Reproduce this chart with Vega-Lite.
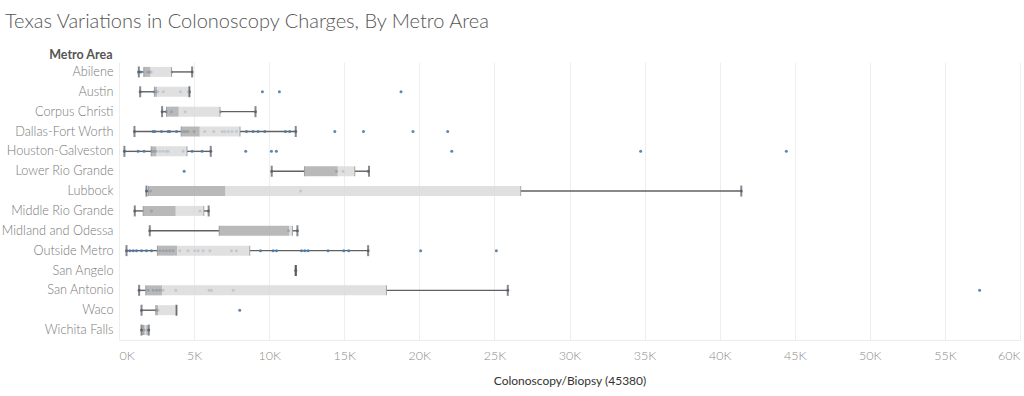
{
  "$schema": "https://vega.github.io/schema/vega-lite/v6.json",
  "autosize": {"type": "none"},
  "width": 901,
  "height": 278,
  "padding": {"left": 119, "top": 62, "right": 4, "bottom": 56},
  "background": "white",
  "title": {
    "text": "Texas Variations in Colonoscopy Charges, By Metro Area",
    "anchor": "start",
    "frame": "group",
    "dx": -114,
    "offset": 16,
    "font": "Lato",
    "fontSize": 20,
    "fontWeight": 300,
    "color": "#555555"
  },
  "config": {
    "view": {"stroke": null},
    "font": "Lato"
  },
  "datasets": {
    "boxes": [
      {"metro": "Abilene", "lo": 1320, "q1": 1650, "med": 2100, "q3": 3500, "hi": 4870},
      {"metro": "Austin", "lo": 1410, "q1": 2360, "med": 2540, "q3": 4690, "hi": 4690},
      {"metro": "Corpus Christi", "lo": 2870, "q1": 3160, "med": 3980, "q3": 6730, "hi": 9090},
      {"metro": "Dallas-Fort Worth", "lo": 1030, "q1": 4140, "med": 5380, "q3": 8060, "hi": 11770},
      {"metro": "Houston-Galveston", "lo": 360, "q1": 2140, "med": 2500, "q3": 4530, "hi": 6110},
      {"metro": "Lower Rio Grande", "lo": 10170, "q1": 12350, "med": 14570, "q3": 15700, "hi": 16650},
      {"metro": "Lubbock", "lo": 1830, "q1": 1960, "med": 7090, "q3": 26750, "hi": 41440},
      {"metro": "Middle Rio Grande", "lo": 1050, "q1": 1610, "med": 3780, "q3": 5650, "hi": 5970},
      {"metro": "Midland and Odessa", "lo": 2050, "q1": 6670, "med": 11330, "q3": 11550, "hi": 11880},
      {"metro": "Outside Metro", "lo": 500, "q1": 2560, "med": 3870, "q3": 8710, "hi": 16590},
      {"metro": "San Angelo", "lo": 11770, "q1": 11770, "med": 11770, "q3": 11770, "hi": 11770},
      {"metro": "San Antonio", "lo": 1340, "q1": 1780, "med": 2870, "q3": 17810, "hi": 25890},
      {"metro": "Waco", "lo": 1500, "q1": 2450, "med": 2600, "q3": 3830, "hi": 3830},
      {"metro": "Wichita Falls", "lo": 1500, "q1": 1600, "med": 1720, "q3": 1870, "hi": 1980}
    ],
    "points": [
      {"metro": "Abilene", "v": 1300}, {"metro": "Abilene", "v": 1450}, {"metro": "Abilene", "v": 1900}, {"metro": "Abilene", "v": 2050}, {"metro": "Abilene", "v": 2150}, {"metro": "Abilene", "v": 3500}, {"metro": "Abilene", "v": 4870},
      {"metro": "Austin", "v": 1410}, {"metro": "Austin", "v": 2360}, {"metro": "Austin", "v": 2450}, {"metro": "Austin", "v": 2600}, {"metro": "Austin", "v": 2950}, {"metro": "Austin", "v": 4100}, {"metro": "Austin", "v": 4600}, {"metro": "Austin", "v": 4690}, {"metro": "Austin", "v": 9550}, {"metro": "Austin", "v": 10680}, {"metro": "Austin", "v": 18780},
      {"metro": "Corpus Christi", "v": 2870}, {"metro": "Corpus Christi", "v": 3160}, {"metro": "Corpus Christi", "v": 3490}, {"metro": "Corpus Christi", "v": 4400}, {"metro": "Corpus Christi", "v": 6730}, {"metro": "Corpus Christi", "v": 9090},
      {"metro": "Dallas-Fort Worth", "v": 1030}, {"metro": "Dallas-Fort Worth", "v": 2270}, {"metro": "Dallas-Fort Worth", "v": 2380}, {"metro": "Dallas-Fort Worth", "v": 2830}, {"metro": "Dallas-Fort Worth", "v": 3270}, {"metro": "Dallas-Fort Worth", "v": 3380}, {"metro": "Dallas-Fort Worth", "v": 3830}, {"metro": "Dallas-Fort Worth", "v": 4270}, {"metro": "Dallas-Fort Worth", "v": 4380}, {"metro": "Dallas-Fort Worth", "v": 4490}, {"metro": "Dallas-Fort Worth", "v": 4600}, {"metro": "Dallas-Fort Worth", "v": 5000}, {"metro": "Dallas-Fort Worth", "v": 5710}, {"metro": "Dallas-Fort Worth", "v": 6310}, {"metro": "Dallas-Fort Worth", "v": 6870}, {"metro": "Dallas-Fort Worth", "v": 7040}, {"metro": "Dallas-Fort Worth", "v": 7270}, {"metro": "Dallas-Fort Worth", "v": 7530}, {"metro": "Dallas-Fort Worth", "v": 7820}, {"metro": "Dallas-Fort Worth", "v": 8490}, {"metro": "Dallas-Fort Worth", "v": 8930}, {"metro": "Dallas-Fort Worth", "v": 9260}, {"metro": "Dallas-Fort Worth", "v": 9710}, {"metro": "Dallas-Fort Worth", "v": 11080}, {"metro": "Dallas-Fort Worth", "v": 11370}, {"metro": "Dallas-Fort Worth", "v": 11770}, {"metro": "Dallas-Fort Worth", "v": 14370}, {"metro": "Dallas-Fort Worth", "v": 16280}, {"metro": "Dallas-Fort Worth", "v": 19580}, {"metro": "Dallas-Fort Worth", "v": 21890},
      {"metro": "Houston-Galveston", "v": 360}, {"metro": "Houston-Galveston", "v": 1270}, {"metro": "Houston-Galveston", "v": 1670}, {"metro": "Houston-Galveston", "v": 2200}, {"metro": "Houston-Galveston", "v": 2340}, {"metro": "Houston-Galveston", "v": 2500}, {"metro": "Houston-Galveston", "v": 2720}, {"metro": "Houston-Galveston", "v": 2940}, {"metro": "Houston-Galveston", "v": 3160}, {"metro": "Houston-Galveston", "v": 3270}, {"metro": "Houston-Galveston", "v": 4270}, {"metro": "Houston-Galveston", "v": 4870}, {"metro": "Houston-Galveston", "v": 5530}, {"metro": "Houston-Galveston", "v": 6110}, {"metro": "Houston-Galveston", "v": 8440}, {"metro": "Houston-Galveston", "v": 10150}, {"metro": "Houston-Galveston", "v": 10480}, {"metro": "Houston-Galveston", "v": 22160}, {"metro": "Houston-Galveston", "v": 34740}, {"metro": "Houston-Galveston", "v": 44440},
      {"metro": "Lower Rio Grande", "v": 4340}, {"metro": "Lower Rio Grande", "v": 10170}, {"metro": "Lower Rio Grande", "v": 14480}, {"metro": "Lower Rio Grande", "v": 14920}, {"metro": "Lower Rio Grande", "v": 16590},
      {"metro": "Lubbock", "v": 1830}, {"metro": "Lubbock", "v": 2100}, {"metro": "Lubbock", "v": 12100}, {"metro": "Lubbock", "v": 41440},
      {"metro": "Middle Rio Grande", "v": 1050}, {"metro": "Middle Rio Grande", "v": 2160}, {"metro": "Middle Rio Grande", "v": 5400}, {"metro": "Middle Rio Grande", "v": 5950},
      {"metro": "Midland and Odessa", "v": 2050}, {"metro": "Midland and Odessa", "v": 11300}, {"metro": "Midland and Odessa", "v": 11880},
      {"metro": "Outside Metro", "v": 500}, {"metro": "Outside Metro", "v": 720}, {"metro": "Outside Metro", "v": 940}, {"metro": "Outside Metro", "v": 1170}, {"metro": "Outside Metro", "v": 1500}, {"metro": "Outside Metro", "v": 1830}, {"metro": "Outside Metro", "v": 2160}, {"metro": "Outside Metro", "v": 2720}, {"metro": "Outside Metro", "v": 2940}, {"metro": "Outside Metro", "v": 3160}, {"metro": "Outside Metro", "v": 3380}, {"metro": "Outside Metro", "v": 3600}, {"metro": "Outside Metro", "v": 4050}, {"metro": "Outside Metro", "v": 4600}, {"metro": "Outside Metro", "v": 5050}, {"metro": "Outside Metro", "v": 5270}, {"metro": "Outside Metro", "v": 5600}, {"metro": "Outside Metro", "v": 6050}, {"metro": "Outside Metro", "v": 7490}, {"metro": "Outside Metro", "v": 7820}, {"metro": "Outside Metro", "v": 9420}, {"metro": "Outside Metro", "v": 10260}, {"metro": "Outside Metro", "v": 10490}, {"metro": "Outside Metro", "v": 12150}, {"metro": "Outside Metro", "v": 12370}, {"metro": "Outside Metro", "v": 12590}, {"metro": "Outside Metro", "v": 13920}, {"metro": "Outside Metro", "v": 14970}, {"metro": "Outside Metro", "v": 15300}, {"metro": "Outside Metro", "v": 16590}, {"metro": "Outside Metro", "v": 20090}, {"metro": "Outside Metro", "v": 25130},
      {"metro": "San Angelo", "v": 11770},
      {"metro": "San Antonio", "v": 1340}, {"metro": "San Antonio", "v": 1940}, {"metro": "San Antonio", "v": 2270}, {"metro": "San Antonio", "v": 2500}, {"metro": "San Antonio", "v": 2720}, {"metro": "San Antonio", "v": 2940}, {"metro": "San Antonio", "v": 3780}, {"metro": "San Antonio", "v": 6000}, {"metro": "San Antonio", "v": 6160}, {"metro": "San Antonio", "v": 7600}, {"metro": "San Antonio", "v": 25890}, {"metro": "San Antonio", "v": 57310},
      {"metro": "Waco", "v": 1500}, {"metro": "Waco", "v": 2500}, {"metro": "Waco", "v": 2600}, {"metro": "Waco", "v": 8040},
      {"metro": "Wichita Falls", "v": 1500}, {"metro": "Wichita Falls", "v": 1750}, {"metro": "Wichita Falls", "v": 1980}
    ]
  },
  "encoding": {
    "y": {
      "field": "metro",
      "type": "nominal",
      "sort": ["Abilene", "Austin", "Corpus Christi", "Dallas-Fort Worth", "Houston-Galveston", "Lower Rio Grande", "Lubbock", "Middle Rio Grande", "Midland and Odessa", "Outside Metro", "San Angelo", "San Antonio", "Waco", "Wichita Falls"],
      "scale": {"paddingInner": 0, "paddingOuter": 0},
      "axis": {
        "title": "Metro Area",
        "titleAngle": 0,
        "titleAlign": "right",
        "titleBaseline": "alphabetic",
        "titleX": -7,
        "titleY": -4,
        "titleFont": "Lato",
        "titleFontSize": 12.5,
        "titleFontWeight": "bold",
        "titleColor": "#555555",
        "labelFont": "Lato",
        "labelFontSize": 12.7,
        "labelFontWeight": 300,
        "labelColor": "#777777",
        "labelPadding": 6,
        "ticks": false,
        "domain": false,
        "grid": false
      }
    }
  },
  "layer": [
    {
      "data": {"name": "boxes"},
      "mark": {"type": "rule", "color": "#606060", "strokeWidth": 1.4},
      "encoding": {
        "x": {
          "field": "lo",
          "type": "quantitative",
          "scale": {"domain": [0, 60000], "nice": false},
          "axis": {
            "title": "Colonoscopy/Biopsy (45380)",
            "values": [0, 5000, 10000, 15000, 20000, 25000, 30000, 35000, 40000, 45000, 50000, 55000, 60000],
            "labelExpr": "datum.value / 1000 + 'K'",
            "labelFlush": true,
            "labelFont": "Lato",
            "labelFontSize": 12.5,
            "labelFontWeight": 300,
            "labelColor": "#8a8a8a",
            "labelPadding": 9,
            "ticks": false,
            "domain": true,
            "domainColor": "#ececec",
            "grid": true,
            "gridColor": "#eeeeee",
            "gridWidth": 1,
            "titleFont": "Lato",
            "titleFontSize": 12,
            "titleFontWeight": "normal",
            "titleColor": "#333333",
            "titlePadding": 14
          }
        },
        "x2": {"field": "q1"}
      }
    },
    {
      "data": {"name": "boxes"},
      "mark": {"type": "rule", "color": "#606060", "strokeWidth": 1.4},
      "encoding": {
        "x": {"field": "q3", "type": "quantitative"},
        "x2": {"field": "hi"}
      }
    },
    {
      "data": {"name": "points"},
      "mark": {"type": "circle", "color": "#4e79a7", "size": 9, "opacity": 0.9},
      "encoding": {
        "x": {"field": "v", "type": "quantitative"}
      }
    },
    {
      "data": {"name": "boxes"},
      "mark": {"type": "bar", "color": "#a8a8a8", "opacity": 0.8, "size": 10},
      "encoding": {
        "x": {"field": "q1", "type": "quantitative"},
        "x2": {"field": "med"}
      }
    },
    {
      "data": {"name": "boxes"},
      "mark": {"type": "bar", "color": "#d8d8d8", "opacity": 0.8, "size": 10},
      "encoding": {
        "x": {"field": "med", "type": "quantitative"},
        "x2": {"field": "q3"}
      }
    },
    {
      "data": {"name": "boxes"},
      "mark": {"type": "tick", "color": "#888888", "thickness": 1, "size": 10},
      "encoding": {
        "x": {"field": "q1", "type": "quantitative"}
      }
    },
    {
      "data": {"name": "boxes"},
      "mark": {"type": "tick", "color": "#888888", "thickness": 1, "size": 10},
      "encoding": {
        "x": {"field": "q3", "type": "quantitative"}
      }
    },
    {
      "data": {"name": "boxes"},
      "mark": {"type": "tick", "color": "#555555", "thickness": 2, "size": 11},
      "encoding": {
        "x": {"field": "lo", "type": "quantitative"}
      }
    },
    {
      "data": {"name": "boxes"},
      "mark": {"type": "tick", "color": "#555555", "thickness": 2, "size": 11},
      "encoding": {
        "x": {"field": "hi", "type": "quantitative"}
      }
    }
  ]
}
